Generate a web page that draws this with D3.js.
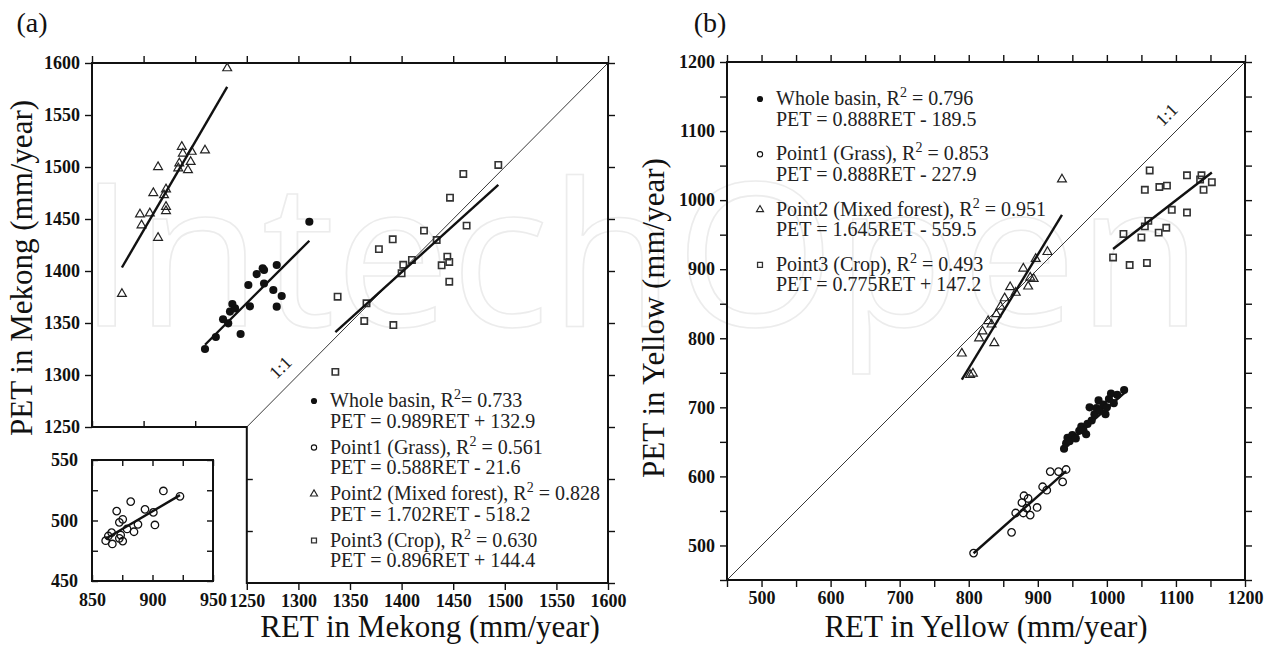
<!DOCTYPE html>
<html>
<head>
<meta charset="utf-8">
<script src="https://cdn.jsdelivr.net/npm/d3@7"></script>
<style>
  body { margin: 0; background: #fff; }
</style>
</head>
<body>
<svg id="chart" width="1265" height="645"></svg>
<script>
// ---- panel (a): Mekong, [RET, PET] mm/year ----
const mekongBasin = [[1209.5,1325],[1220,1336.5],[1227,1353.6],[1232,1349.7],[1233.7,1361],[1236,1368.3],
  [1238.6,1364],[1244,1339.4],[1251.5,1386.5],[1253,1366],[1259.6,1397],[1265.4,1402.6],[1266.7,1401],
  [1266.7,1388],[1275.7,1381.7],[1279,1405.8],[1279,1365.7],[1283.8,1376],[1310.6,1447.4]];
const mekongGrass = [[922.7,520],[909,524.4],[882,515.6],[870.4,507.8],[893.8,509.2],[900.7,506.7],[902,496.3],
  [875.4,501],[872.6,498.5],[888,496.8],[879,493],[884.7,490.7],[873.7,488],[866.2,490],[863.5,487.2],
  [861.3,483.3],[872.6,485.3],[875.4,483],[866.8,480.6]];
const mekongForest = [[1231,1595],[1209.5,1516],[1187,1519.5],[1188,1513],[1196.6,1514.7],[1195.6,1505],
  [1184.6,1503.6],[1183.6,1498.8],[1193,1497],[1164,1500],[1171.7,1478.6],[1169.8,1473],[1159.4,1475],
  [1171.7,1461.8],[1171.7,1457.7],[1146.5,1454.5],[1156,1455.5],[1148,1444],[1164,1432],[1129,1378]];
const mekongCrop = [[1493.7,1502],[1459.8,1493.3],[1446.9,1470.5],[1421.7,1438.8],[1463,1443.6],[1391.4,1430.5],
  [1378,1421],[1434,1429.8],[1444.3,1413.8],[1446.2,1408.7],[1438.8,1405.5],[1446.2,1389.7],[1410,1410.6],
  [1401.6,1406],[1400,1397.8],[1366,1369],[1338,1375.3],[1363.8,1352],[1392,1348],[1335.8,1303]];
const mekongFits = [[0.989,132.9],[0.588,-21.6],[1.702,-518.2],[0.896,144.4]];
const mekongNames = ["Whole basin, R", "Point1 (Grass), R", "Point2 (Mixed forest), R", "Point3 (Crop), R"];
const mekongR2 = ["= 0.733", " = 0.561", " = 0.828", " = 0.630"];
const mekongTicks = [1250,1300,1350,1400,1450,1500,1550,1600];
const insetXTicks = [850,900,950];
const insetYTicks = [450,500,550];

// ---- panel (b): Yellow, [RET, PET] mm/year ----
const yellowBasin = [[938,640],[941,648],[943,656],[946,651],[950,660],[955,655],[960,666],[963,672],[966,667],
  [970,661],[972,676],[975,700],[978,681],[982,690],[985,699],[988,710],[990,695],[995,704],[998,690],
  [1000,700],[1003,712],[1006,720],[1010,706],[1015,718],[1025,725]];
const yellowGrass = [[807,489],[862,519],[868,547],[877,562],[880,572],[886,568],[879,547],[889,544],[884,554],
  [899,555],[907,585],[913,580],[918,607],[930,607],[936,592],[941,610]];
const yellowForest = [[790,778],[802,747],[806,749],[815,800],[820,810],[828,825],[833,820],[837,793],[840,835],
  [846,846],[852,858],[860,874],[868,866],[886,875],[879,901],[889,888],[894,886],[897,915],[914,925],[935,1030]];
const yellowCrop = [[1062,1043],[1055,1015],[1076,1019],[1087,1021],[1116,1036],[1137,1036],[1135,1030],
  [1152,1026],[1140,1015],[1094,986],[1116,982],[1060,970],[1055,962],[1086,960],[1075,953],[1024,951],
  [1050,946],[1009,917],[1033,906],[1058,909]];
const yellowFits = [[0.888,-189.5],[0.888,-227.9],[1.645,-559.5],[0.775,147.2]];
const yellowNames = ["Whole basin, R", "Point1 (Grass), R", "Point2 (Mixed forest), R", "Point3 (Crop), R"];
const yellowR2 = [" = 0.796", " = 0.853", " = 0.951", " = 0.493"];
const yellowTicks = [500,600,700,800,900,1000,1100,1200];

const serif = "'Liberation Serif', 'Times New Roman', serif";
const fmt = d3.format("d");
const svg = d3.select("#chart");
svg.append("rect").attr("width", 1265).attr("height", 645).attr("fill", "#fff");

// faint watermark behind everything
svg.append("text")
  .attr("x", 78).attr("y", 326)
  .attr("textLength", 1125).attr("lengthAdjust", "spacingAndGlyphs")
  .style("font", "200px 'Open Sans', sans-serif")
  .attr("fill", "none").attr("stroke", "#ececec").attr("stroke-width", 1.6)
  .text("IntechOpen");

const tri = d3.symbol().type(d3.symbolTriangle);
const sqr = d3.symbol().type(d3.symbolSquare);

function drawSeries(g, data, kind, x, y, big) {
  const sel = g.append("g").selectAll("path").data(data).join("path")
    .attr("transform", d => `translate(${x(d[0])},${y(d[1])})`);
  if (kind === 0) sel.attr("d", d3.symbol().type(d3.symbolCircle).size(big ? 52 : 30)()).attr("fill", "#111");
  if (kind === 1) sel.attr("d", d3.symbol().type(d3.symbolCircle).size(big ? 44 : 22)())
    .attr("fill", "none").attr("stroke", "#111").attr("stroke-width", big ? 1.3 : 1.1);
  if (kind === 2) sel.attr("d", tri.size(big ? 34 : 22)())
    .attr("fill", "none").attr("stroke", "#222").attr("stroke-width", big ? 1.2 : 1.1);
  if (kind === 3) sel.attr("d", sqr.size(big ? 40 : 24)())
    .attr("fill", "none").attr("stroke", "#333").attr("stroke-width", big ? 1.6 : 1.3);
}

function drawFit(g, data, fit, x, y) {
  const ext = d3.extent(data, d => d[0]);
  g.append("line")
    .attr("x1", x(ext[0])).attr("y1", y(fit[0] * ext[0] + fit[1]))
    .attr("x2", x(ext[1])).attr("y2", y(fit[0] * ext[1] + fit[1]))
    .attr("stroke", "#111").attr("stroke-width", 2.4);
}

function styleAxis(g, fs) {
  g.select(".domain").remove();
  g.selectAll(".tick line").attr("stroke", "#111").attr("stroke-width", 1.4);
  g.selectAll(".tick text").style("font", `bold ${fs}px ${serif}`).attr("fill", "#111");
}

function drawLegend(g, x0, y0, step, names, r2, fits) {
  names.forEach((name, i) => {
    const y = y0 + i * step;
    const m = g.append("g");
    drawSeries(m, [[0, 0]], i, v => x0 + v, v => y - 6 + v, false);
    const t = g.append("text").attr("x", x0 + 16).attr("y", y)
      .style("font", `20px ${serif}`).attr("fill", "#222");
    t.append("tspan").text(name);
    t.append("tspan").attr("dy", -8).style("font-size", "14px").text("2");
    t.append("tspan").attr("dy", 8).text(r2[i]);
    const f = fits[i];
    g.append("text").attr("x", x0 + 16).attr("y", y + 20.5)
      .style("font", `20px ${serif}`).attr("fill", "#222")
      .text(`PET = ${f[0].toFixed(3)}RET ${f[1] < 0 ? "-" : "+"} ${Math.abs(f[1]).toFixed(1)}`);
  });
}

// ================= panel (a) =================
const gA = svg.append("g");
const xA = d3.scaleLinear().domain([1100, 1600]).range([92, 608]);
const yA = d3.scaleLinear().domain([1100, 1600]).range([583, 63]);
const every50 = d3.range(1100, 1601, 50);

gA.append("g").attr("transform", `translate(92,0)`)
  .call(d3.axisLeft(yA).tickValues(mekongTicks).tickFormat(fmt).tickSize(7).tickPadding(5)).call(styleAxis, 18);
gA.append("g").attr("transform", `translate(0,63)`)
  .call(d3.axisTop(xA).tickValues(every50).tickFormat("").tickSize(7)).call(styleAxis, 18);
gA.append("g").attr("transform", `translate(608,0)`)
  .call(d3.axisRight(yA).tickValues(every50).tickFormat("").tickSize(7)).call(styleAxis, 18);
gA.append("g").attr("transform", `translate(0,583)`)
  .call(d3.axisBottom(xA).tickValues(mekongTicks).tickFormat(fmt).tickSize(7).tickPadding(4)).call(styleAxis, 18);
gA.append("g").attr("transform", `translate(0,${yA(1250)})`)
  .call(d3.axisTop(xA).tickValues([1100, 1150, 1200]).tickFormat("").tickSize(6)).call(styleAxis, 18);
gA.append("g").attr("transform", `translate(${xA(1250)},0)`)
  .call(d3.axisRight(yA).tickValues([1150, 1200]).tickFormat("").tickSize(6)).call(styleAxis, 18);

// L-shaped frame
gA.append("path")
  .attr("d", `M${xA(1100)},${yA(1600)}H${xA(1600)}V${yA(1100)}H${xA(1250)}V${yA(1250)}H${xA(1100)}Z`)
  .attr("fill", "none").attr("stroke", "#111").attr("stroke-width", 2);

// 1:1 line
gA.append("line").attr("x1", xA(1250)).attr("y1", yA(1250)).attr("x2", xA(1600)).attr("y2", yA(1600))
  .attr("stroke", "#222").attr("stroke-width", 0.9);
gA.append("text").attr("transform", `translate(${xA(1295) - 13},${yA(1295) - 13}) rotate(-45)`)
  .attr("text-anchor", "middle").attr("dy", "0.35em")
  .style("font", `18px ${serif}`).attr("fill", "#222").text("1:1");

drawSeries(gA, mekongForest, 2, xA, yA, true);
drawSeries(gA, mekongCrop, 3, xA, yA, true);
drawSeries(gA, mekongBasin, 0, xA, yA, true);
drawFit(gA, mekongBasin, mekongFits[0], xA, yA);
drawFit(gA, mekongForest, mekongFits[2], xA, yA);
drawFit(gA, mekongCrop, mekongFits[3], xA, yA);

// inset: Point1 (Grass)
const xI = d3.scaleLinear().domain([850, 950]).range([92, 213]);
const yI = d3.scaleLinear().domain([450, 550]).range([581, 460]);
const inset25 = [850, 875, 900, 925, 950];
const insetY25 = [450, 475, 500, 525, 550];
gA.append("g").attr("transform", `translate(92,0)`)
  .call(d3.axisLeft(yI).tickValues(insetY25).tickFormat(d => insetYTicks.includes(d) ? d : "")
    .tickSizeInner(-6).tickPadding(14)).call(styleAxis, 18);
gA.append("g").attr("transform", `translate(213,0)`)
  .call(d3.axisRight(yI).tickValues(insetY25).tickFormat("").tickSizeInner(-6)).call(styleAxis, 18);
gA.append("g").attr("transform", `translate(0,581)`)
  .call(d3.axisBottom(xI).tickValues(inset25).tickFormat(d => insetXTicks.includes(d) ? d : "")
    .tickSizeInner(-6).tickPadding(12)).call(styleAxis, 18);
gA.append("g").attr("transform", `translate(0,460)`)
  .call(d3.axisTop(xI).tickValues(inset25).tickFormat("").tickSizeInner(-6)).call(styleAxis, 18);
gA.append("rect").attr("x", 92).attr("y", 460).attr("width", 121).attr("height", 121)
  .attr("fill", "none").attr("stroke", "#111").attr("stroke-width", 2);
drawSeries(gA, mekongGrass, 1, xI, yI, true);
drawFit(gA, mekongGrass, mekongFits[1], xI, yI);

drawLegend(gA, 314, 407, 46.5, mekongNames, mekongR2, mekongFits);

// titles (a)
svg.append("text").attr("x", 32).attr("y", 32).attr("text-anchor", "middle")
  .style("font", `28px ${serif}`).attr("fill", "#111").text("(a)");
svg.append("text").attr("x", 430).attr("y", 637).attr("text-anchor", "middle")
  .style("font", `31px ${serif}`).attr("fill", "#111").text("RET in Mekong (mm/year)");
svg.append("text").attr("transform", "translate(32,268) rotate(-90)").attr("text-anchor", "middle")
  .style("font", `31px ${serif}`).attr("fill", "#111").text("PET in Mekong (mm/year)");

// ================= panel (b) =================
const gB = svg.append("g");
const xB = d3.scaleLinear().domain([450, 1200]).range([727, 1245]);
const yB = d3.scaleLinear().domain([450, 1200]).range([580, 62]);
const yEvery50 = d3.range(450, 1201, 50);
const lab = d => yellowTicks.includes(d) ? fmt(d) : "";

gB.append("g").attr("transform", `translate(727,0)`)
  .call(d3.axisLeft(yB).tickValues(yEvery50).tickFormat(lab).tickSize(7).tickPadding(5)).call(styleAxis, 18);
gB.append("g").attr("transform", `translate(0,580)`)
  .call(d3.axisBottom(xB).tickValues(yEvery50).tickFormat(lab).tickSize(7).tickPadding(4)).call(styleAxis, 18);
gB.append("g").attr("transform", `translate(0,62)`)
  .call(d3.axisTop(xB).tickValues(yEvery50).tickFormat("").tickSize(7)).call(styleAxis, 18);
gB.append("g").attr("transform", `translate(1245,0)`)
  .call(d3.axisRight(yB).tickValues(yEvery50).tickFormat("").tickSize(7)).call(styleAxis, 18);
gB.append("rect").attr("x", 727).attr("y", 62).attr("width", 518).attr("height", 518)
  .attr("fill", "none").attr("stroke", "#111").attr("stroke-width", 2);

gB.append("line").attr("x1", xB(450)).attr("y1", yB(450)).attr("x2", xB(1200)).attr("y2", yB(1200))
  .attr("stroke", "#222").attr("stroke-width", 0.9);
gB.append("text").attr("transform", `translate(${xB(1105) - 13},${yB(1105) - 13}) rotate(-45)`)
  .attr("text-anchor", "middle").attr("dy", "0.35em")
  .style("font", `18px ${serif}`).attr("fill", "#222").text("1:1");

drawSeries(gB, yellowForest, 2, xB, yB, true);
drawSeries(gB, yellowCrop, 3, xB, yB, true);
drawSeries(gB, yellowGrass, 1, xB, yB, true);
drawSeries(gB, yellowBasin, 0, xB, yB, true);
yellowFits.forEach((f, i) => drawFit(gB, [yellowBasin, yellowGrass, yellowForest, yellowCrop][i], f, xB, yB));

drawLegend(gB, 760, 105, 55.3, yellowNames, yellowR2, yellowFits);

svg.append("text").attr("x", 710).attr("y", 32).attr("text-anchor", "middle")
  .style("font", `28px ${serif}`).attr("fill", "#111").text("(b)");
svg.append("text").attr("x", 986).attr("y", 637).attr("text-anchor", "middle")
  .style("font", `31px ${serif}`).attr("fill", "#111").text("RET in Yellow (mm/year)");
svg.append("text").attr("transform", "translate(664,318) rotate(-90)").attr("text-anchor", "middle")
  .style("font", `31px ${serif}`).attr("fill", "#111").text("PET in Yellow (mm/year)");
</script>
</body>
</html>
